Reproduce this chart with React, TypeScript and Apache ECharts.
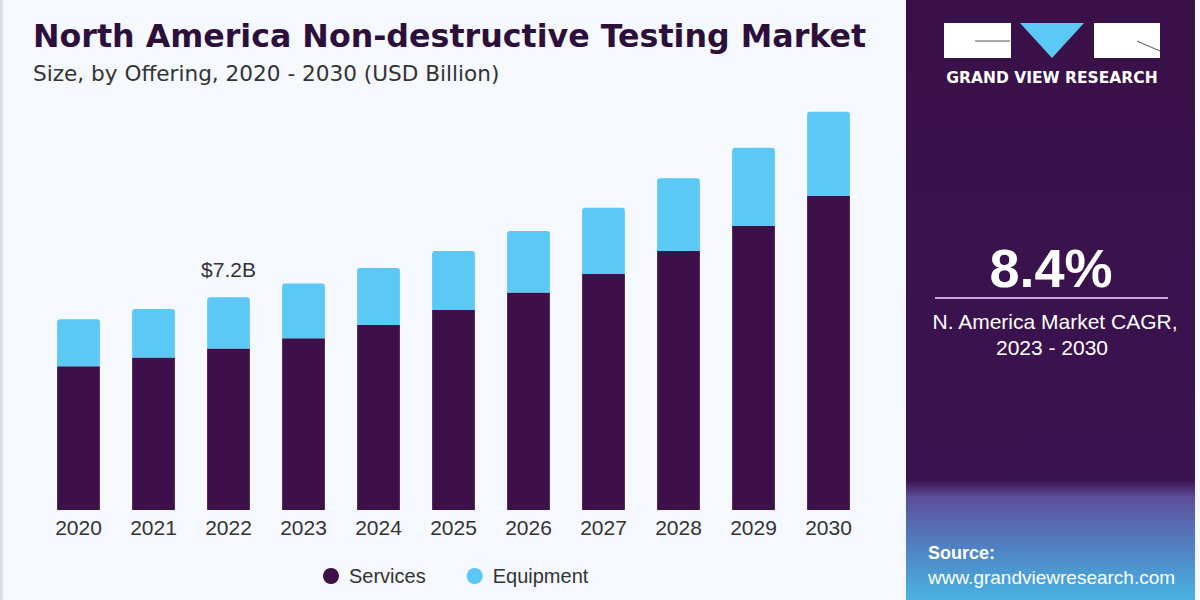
import React, { useEffect, useRef } from "react";
import * as echarts from "echarts";

const years = ["2020", "2021", "2022", "2023", "2024", "2025", "2026", "2027", "2028", "2029", "2030"];
const services = [4.87, 5.16, 5.47, 5.81, 6.26, 6.77, 7.36, 7.99, 8.77, 9.62, 10.64];
const equipment = [1.59, 1.64, 1.73, 1.86, 1.93, 2.0, 2.08, 2.24, 2.46, 2.64, 2.84];
const highlightIndex = 2;
const highlightLabel = "$7.2B";
const titleText = "North America Non-destructive Testing Market";
const subtitleText = "Size, by Offering, 2020 - 2030 (USD Billion)";
const cagrValue = "8.4%";
const cagrLine1 = "N. America Market CAGR,";
const cagrLine2 = "2023 - 2030";

const FONT = "'Liberation Sans', Arial, sans-serif";
const WIDE = "'DejaVu Sans', sans-serif";

export default function App() {
  const ref = useRef<HTMLDivElement>(null);
  useEffect(() => {
    if (!ref.current) return;
    const chart = echarts.init(ref.current, null, { renderer: "svg" });
    const option = {
      animation: false,
      backgroundColor: "#f5f8fc",
      textStyle: { fontFamily: FONT },
      grid: { left: 41, width: 825, top: 96.4, bottom: 90, containLabel: false },
      xAxis: {
        type: "category",
        data: years,
        axisLine: { show: false },
        axisTick: { show: false },
        axisLabel: { color: "#333333", fontSize: 21, margin: 7, fontFamily: FONT },
      },
      yAxis: { type: "value", min: 0, max: 14, show: false, splitLine: { show: false } },
      legend: {
        left: 318,
        top: 561,
        itemWidth: 16,
        itemHeight: 16,
        itemGap: 41,
        icon: "circle",
        textStyle: { color: "#333333", fontSize: 20, fontFamily: FONT, padding: [0, 0, 0, 5] },
        data: ["Services", "Equipment"],
      },
      series: [
        {
          name: "Services",
          type: "bar",
          stack: "total",
          barWidth: "57%",
          data: services,
          itemStyle: { color: "#3d1049" },
        },
        {
          name: "Equipment",
          type: "bar",
          stack: "total",
          barWidth: "57%",
          data: equipment.map((v, i) =>
            i === highlightIndex
              ? {
                  value: v,
                  label: {
                    show: true,
                    position: "top",
                    distance: 17,
                    formatter: highlightLabel,
                    color: "#333333",
                    fontSize: 21,
                    fontFamily: FONT,
                  },
                }
              : v
          ),
          itemStyle: { color: "#5bc8f5", borderRadius: [3, 3, 0, 0] },
        },
      ],
      graphic: [
        { type: "rect", shape: { x: 0, y: 0, width: 3, height: 600 }, style: { fill: "#d9dde3" } },
        {
          type: "text",
          left: 33,
          top: 20,
          style: { text: titleText, fill: "#2d0f3b", font: `bold 31.7px ${WIDE}` },
        },
        {
          type: "text",
          left: 33,
          top: 62,
          style: { text: subtitleText, fill: "#333333", font: `21.6px ${WIDE}` },
        },
        {
          type: "rect",
          shape: { x: 906, y: 0, width: 289, height: 600 },
          style: {
            fill: new echarts.graphic.LinearGradient(0, 0, 0, 1, [
              { offset: 0, color: "#3a1048" },
              { offset: 0.8, color: "#3a1450" },
              { offset: 0.83, color: "#5e4f9c" },
              { offset: 0.92, color: "#4f86c6" },
              { offset: 1, color: "#4ab2e2" },
            ]),
          },
        },
        { type: "rect", shape: { x: 1195, y: 0, width: 5, height: 600 }, style: { fill: "#f5f8fc" } },
        { type: "rect", shape: { x: 944, y: 23, width: 67, height: 35 }, style: { fill: "#ffffff" } },
        { type: "line", shape: { x1: 975, y1: 41, x2: 1010, y2: 41 }, style: { stroke: "#555555", lineWidth: 1 } },
        {
          type: "polygon",
          shape: { points: [[1020, 23], [1084, 23], [1052, 58]] },
          style: { fill: "#5bc8f5" },
        },
        { type: "rect", shape: { x: 1094, y: 23, width: 66, height: 35 }, style: { fill: "#ffffff" } },
        { type: "line", shape: { x1: 1137, y1: 41, x2: 1160, y2: 51 }, style: { stroke: "#555555", lineWidth: 1 } },
        {
          type: "text",
          x: 1052,
          y: 78,
          style: {
            text: "GRAND VIEW RESEARCH",
            fill: "#ffffff",
            font: `bold 15.5px ${WIDE}`,
            align: "center",
            verticalAlign: "middle",
          },
        },
        {
          type: "text",
          x: 1051,
          y: 268,
          style: {
            text: cagrValue,
            fill: "#ffffff",
            font: `bold 54px ${FONT}`,
            align: "center",
            verticalAlign: "middle",
          },
        },
        { type: "line", shape: { x1: 935, y1: 298, x2: 1168, y2: 298 }, style: { stroke: "#c9a9d9", lineWidth: 2 } },
        {
          type: "text",
          x: 1055,
          y: 321,
          style: { text: cagrLine1, fill: "#ffffff", font: `21px ${FONT}`, align: "center", verticalAlign: "middle" },
        },
        {
          type: "text",
          x: 1052,
          y: 347,
          style: { text: cagrLine2, fill: "#ffffff", font: `21px ${FONT}`, align: "center", verticalAlign: "middle" },
        },
        {
          type: "text",
          x: 928,
          y: 553,
          style: { text: "Source:", fill: "#ffffff", font: `bold 18px ${FONT}`, verticalAlign: "middle" },
        },
        {
          type: "text",
          x: 928,
          y: 577,
          style: { text: "www.grandviewresearch.com", fill: "#ffffff", font: `19px ${FONT}`, verticalAlign: "middle" },
        },
      ],
    };
    chart.setOption(option);
    return () => chart.dispose();
  }, []);
  return <div ref={ref} style={{ width: 1200, height: 600, position: "absolute", left: 0, top: 0 }} />;
}
